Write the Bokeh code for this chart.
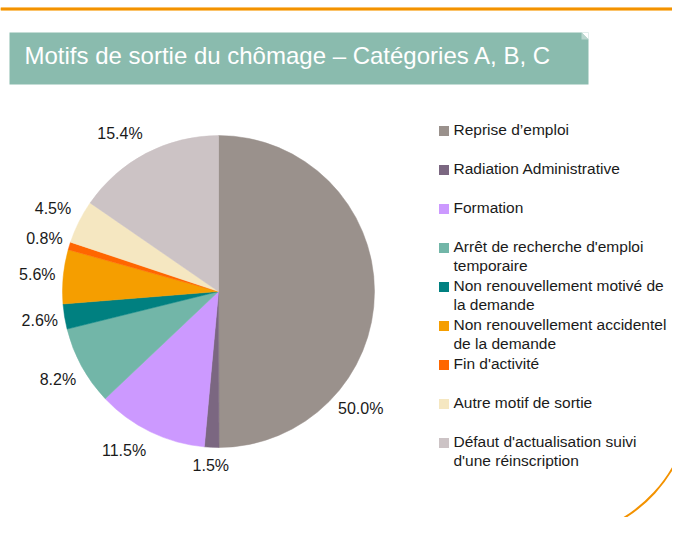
import math
from bokeh.plotting import figure
from bokeh.models import Range1d
from bokeh.core.properties import value
from bokeh.embed import file_html
from bokeh.resources import INLINE

# ---- data ----
categories = [
    "Reprise d\u2019emploi",
    "Radiation Administrative",
    "Formation",
    "Arr\u00eat de recherche d'emploi\ntemporaire",
    "Non renouvellement motiv\u00e9 de\nla demande",
    "Non renouvellement accidentel\nde la demande",
    "Fin d'activit\u00e9",
    "Autre motif de sortie",
    "D\u00e9faut d'actualisation suivi\nd'une r\u00e9inscription",
]
shares = [50.0, 1.5, 11.5, 8.2, 2.6, 5.6, 0.8, 4.5, 15.4]
pct_labels = ["50.0%", "1.5%", "11.5%", "8.2%", "2.6%", "5.6%", "0.8%", "4.5%", "15.4%"]
colors = ["#9A918C", "#7B6781", "#CC99FF", "#72B6A8", "#008080",
          "#F59E00", "#FF6600", "#F5E7C1", "#CCC3C5"]
title_text = "Motifs de sortie du ch\u00f4mage \u2013 Cat\u00e9gories A, B, C"

# ---- layout (image pixel coordinates, y measured downward) ----
W, H = 672, 517
def Y(iy):
    return H - iy

p = figure(width=W, height=H, output_backend="svg", toolbar_location=None,
           x_range=Range1d(0, W), y_range=Range1d(0, H), min_border=0)
p.axis.visible = False
p.grid.visible = False
p.outline_line_color = None
p.background_fill_color = "white"

FONT = "Liberation Sans"

# top orange rule
p.segment(x0=[0], y0=[Y(8.5)], x1=[W], y1=[Y(8.5)], line_color="#FBC36A", line_width=4)
p.segment(x0=[0], y0=[Y(8.5)], x1=[W], y1=[Y(8.5)], line_color="#F39200", line_width=2)

# title banner
p.quad(left=[9], right=[588], top=[Y(32)], bottom=[Y(84)],
       fill_color="#8ABBAE", line_color=None)
p.patch(x=[581, 588, 588], y=[Y(32), Y(32), Y(39)], fill_color="white", line_color=None)
p.patch(x=[581, 588, 581], y=[Y(32), Y(39), Y(39)], fill_color="#B9D6CE", line_color=None)
p.text(x=[24], y=[Y(55)], text=[title_text], text_color="white",
       text_font=value(FONT), text_font_size="24px", text_baseline="middle")

# pie
cx, cy, R = 218, 291, 156
total = sum(shares)
starts, ends, mids = [], [], []
acc = 0.0
for s in shares:
    a0 = math.radians(90 - 360 * acc / total)
    acc += s
    a1 = math.radians(90 - 360 * acc / total)
    starts.append(a0)
    ends.append(a1)
    mids.append((a0 + a1) / 2)

p.wedge(x=cx, y=Y(cy), radius=R, start_angle=starts, end_angle=ends,
        direction="clock", fill_color=colors, line_color=colors, line_width=0.5)

# data labels (Excel best-fit placement: a few are nudged off the mid-angle)
label_angle = list(mids)
label_angle[0] = math.radians(-39.4)
label_angle[2] = math.radians(-120.7)
label_angle[8] = math.radians(122.0)
label_r = [184, 174, 185, 183, 181, 182, 182, 185, 186]
lx = [cx + r * math.cos(a) for r, a in zip(label_r, label_angle)]
ly = [Y(cy) + r * math.sin(a) for r, a in zip(label_r, label_angle)]
p.text(x=lx, y=ly, text=pct_labels, text_color="#1a1a1a",
       text_font=value(FONT), text_font_size="16px",
       text_align="center", text_baseline="middle")

# legend
leg_y = [Y(130.5 + 39 * i) for i in range(len(categories))]
p.rect(x=[443.5] * len(categories), y=leg_y, width=10, height=10,
       fill_color=colors, line_color=None)
p.text(x=[453] * len(categories), y=[v + 10 for v in leg_y], text=categories,
       text_color="#1a1a1a", text_font=value(FONT), text_font_size="15.5px",
       text_baseline="top", text_line_height=1.13)

# decorative orange arc (bottom right)
p.arc(x=[550], y=[Y(397)], radius=141, start_angle=math.radians(-95),
      end_angle=math.radians(10), line_color="#F39200", line_width=2)

open("out.html", "w").write(file_html(p, INLINE))
